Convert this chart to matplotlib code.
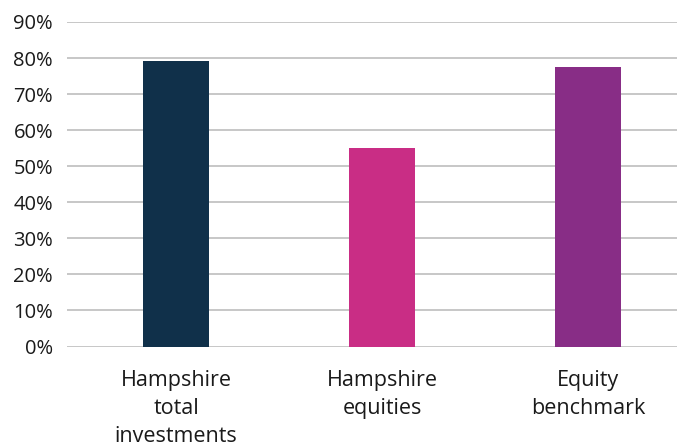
import matplotlib
matplotlib.use("Agg")
import matplotlib.pyplot as plt
from matplotlib.ticker import FuncFormatter

categories = ["Hampshire\ntotal\ninvestments", "Hampshire\nequities", "Equity\nbenchmark"]
values = [79.3, 55.1, 77.6]
colors = ["#10304a", "#c92d85", "#882d86"]
yticks = [0, 10, 20, 30, 40, 50, 60, 70, 80, 90]

plt.rcParams['font.family'] = ['Open Sans', 'DejaVu Sans']

fig = plt.figure(figsize=(6.77, 4.48), dpi=100)
W, H = 677, 448
ax = fig.add_axes([67 / W, 1 - 346.5 / H, (677 - 67) / W, (346.5 - 22) / H])

x = list(range(len(categories)))
ax.bar(x, values, width=0.32, color=colors, zorder=3)

ax.set_ylim(0, 90)
ax.set_xlim(-0.53, 2.43)
ax.set_yticks(yticks)
ax.yaxis.set_major_formatter(FuncFormatter(lambda v, p: f"{int(v)}%"))
ax.set_xticks(x)
ax.set_xticklabels(categories, linespacing=1.44)

ax.grid(axis='y', color='#c3c3c3', linewidth=1.3, zorder=0)
ax.set_axisbelow(True)
for s in ax.spines.values():
    s.set_visible(False)

ax.tick_params(axis='y', length=0, pad=10, labelsize=14.5, labelcolor='#1a1a1a')
ax.tick_params(axis='x', length=0, pad=17, labelsize=15.5, labelcolor='#1a1a1a')

fig.savefig("out.png", dpi=100)
